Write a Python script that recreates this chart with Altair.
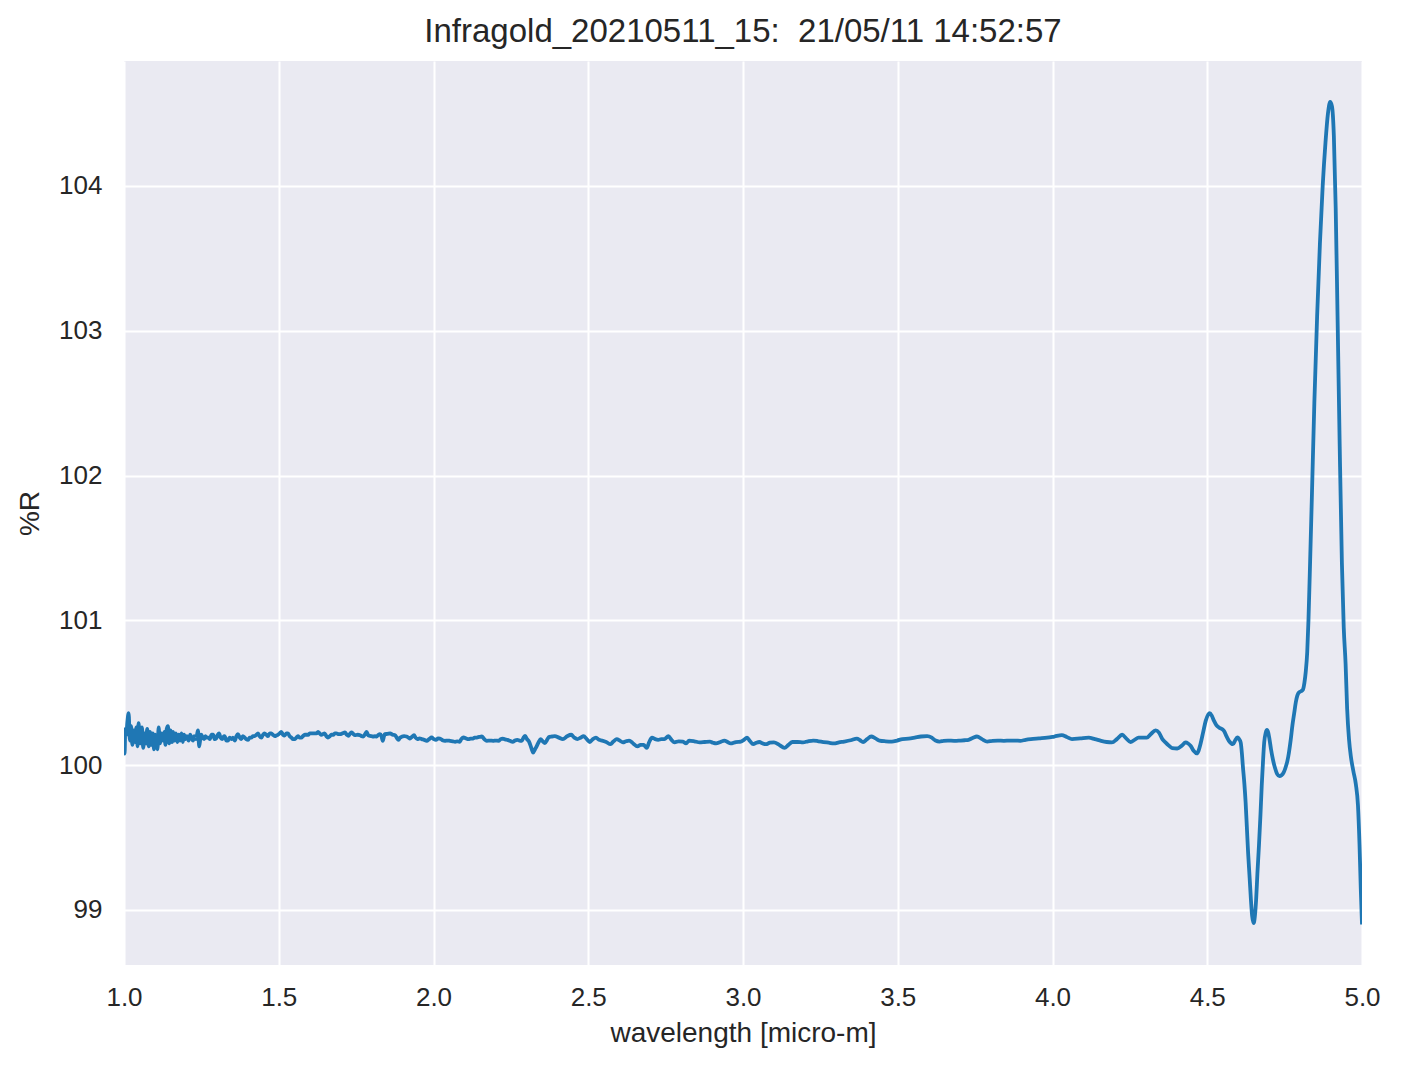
import altair as alt
import pandas as pd

# --- data ---
# segment 1: noisy start, 1.0 - 1.69 micro-m
wl_a = [1.000, 1.002, 1.004, 1.0075, 1.011, 1.015, 1.019, 1.023, 1.027, 1.032, 1.036, 1.040, 1.044, 1.047,
        1.051, 1.054, 1.058, 1.062, 1.067, 1.071, 1.075, 1.080, 1.084, 1.088, 1.093, 1.097, 1.101, 1.105,
        1.108, 1.112, 1.116, 1.120, 1.126, 1.130, 1.134, 1.138, 1.142, 1.146, 1.150, 1.155, 1.159, 1.163,
        1.168, 1.172, 1.177, 1.181, 1.186, 1.190, 1.194, 1.199, 1.203, 1.209, 1.214, 1.218, 1.223, 1.227,
        1.232, 1.236, 1.239, 1.243, 1.247, 1.250, 1.254, 1.259, 1.263, 1.268, 1.273, 1.277, 1.283, 1.288,
        1.293, 1.298, 1.303, 1.307, 1.312, 1.317, 1.321, 1.325, 1.331, 1.336, 1.341, 1.347, 1.352, 1.358,
        1.363, 1.368, 1.374, 1.379, 1.384, 1.390, 1.395, 1.401, 1.406, 1.411, 1.417, 1.422, 1.428, 1.433,
        1.438, 1.444, 1.449, 1.454, 1.460, 1.465, 1.471, 1.476, 1.481, 1.487, 1.492, 1.497, 1.503, 1.508,
        1.514, 1.519, 1.525, 1.530, 1.535, 1.541, 1.546, 1.551, 1.557, 1.562, 1.568, 1.573, 1.578, 1.584,
        1.589, 1.595, 1.600, 1.605, 1.611, 1.616, 1.622, 1.627, 1.632, 1.638, 1.643, 1.648, 1.654, 1.659,
        1.665, 1.670, 1.676, 1.681, 1.686]
r_a = [100.26, 100.08, 100.23, 100.21, 100.30, 100.36, 100.17, 100.27, 100.14, 100.24, 100.16, 100.26, 100.13, 100.29,
       100.18, 100.15, 100.26, 100.12, 100.22, 100.15, 100.25, 100.13, 100.23, 100.14, 100.22, 100.11, 100.21, 100.16,
       100.11, 100.26, 100.15, 100.22, 100.17, 100.23, 100.14, 100.25, 100.27, 100.15, 100.24, 100.16, 100.23, 100.17,
       100.22, 100.16, 100.21, 100.17, 100.22, 100.16, 100.21, 100.18, 100.20, 100.17, 100.21, 100.19, 100.17, 100.20,
       100.18, 100.21, 100.24, 100.13, 100.19, 100.21, 100.19, 100.18, 100.20, 100.19, 100.19, 100.18, 100.21, 100.21,
       100.18, 100.185, 100.21, 100.22, 100.19, 100.18, 100.195, 100.20, 100.17, 100.17, 100.19, 100.18, 100.19, 100.17,
       100.20, 100.215, 100.19, 100.18, 100.20, 100.19, 100.18, 100.175, 100.19, 100.19, 100.20, 100.20, 100.21, 100.22,
       100.20, 100.19, 100.21, 100.22, 100.21, 100.20, 100.22, 100.22, 100.21, 100.20, 100.205, 100.21, 100.22, 100.23,
       100.21, 100.205, 100.22, 100.22, 100.20, 100.19, 100.18, 100.18, 100.19, 100.20, 100.19, 100.19, 100.20, 100.21,
       100.21, 100.21, 100.22, 100.22, 100.22, 100.22, 100.22, 100.23, 100.22, 100.21, 100.215, 100.22, 100.20, 100.19,
       100.20, 100.21, 100.21, 100.22, 100.22]

# segment 2: 1.69 - 2.40 micro-m
wl_b = [1.692, 1.698, 1.706, 1.714, 1.720, 1.725, 1.731, 1.736, 1.741, 1.746, 1.755, 1.763, 1.768, 1.773,
        1.779, 1.784, 1.788, 1.793, 1.800, 1.806, 1.811, 1.816, 1.822, 1.827, 1.832, 1.836, 1.840, 1.843,
        1.851, 1.860, 1.868, 1.876, 1.881, 1.887, 1.892, 1.897, 1.905, 1.913, 1.919, 1.924, 1.930, 1.937,
        1.942, 1.948, 1.955, 1.962, 1.970, 1.978, 1.986, 1.994, 2.001, 2.008, 2.015, 2.021, 2.029, 2.037,
        2.045, 2.053, 2.062, 2.070, 2.077, 2.084, 2.090, 2.097, 2.105, 2.113, 2.120, 2.127, 2.133, 2.140,
        2.148, 2.156, 2.164, 2.172, 2.182, 2.193, 2.201, 2.210, 2.217, 2.224, 2.231, 2.239, 2.247, 2.256,
        2.263, 2.271, 2.278, 2.285, 2.291, 2.296, 2.302, 2.309, 2.316, 2.322, 2.328, 2.334, 2.340, 2.346,
        2.353, 2.360, 2.367, 2.374, 2.383, 2.392]
r_b = [100.215, 100.214, 100.22, 100.226, 100.21, 100.203, 100.22, 100.226, 100.215, 100.207, 100.21, 100.207, 100.20, 100.198,
       100.215, 100.23, 100.21, 100.203, 100.20, 100.198, 100.20, 100.198, 100.21, 100.214, 100.20, 100.168, 100.20, 100.214,
       100.216, 100.219, 100.21, 100.207, 100.19, 100.175, 100.19, 100.196, 100.20, 100.198, 100.19, 100.184, 100.195, 100.207,
       100.19, 100.18, 100.185, 100.18, 100.175, 100.168, 100.18, 100.191, 100.18, 100.175, 100.185, 100.184, 100.172, 100.168,
       100.17, 100.168, 100.165, 100.161, 100.165, 100.161, 100.18, 100.191, 100.185, 100.18, 100.183, 100.184, 100.19, 100.191,
       100.195, 100.198, 100.18, 100.168, 100.17, 100.168, 100.17, 100.168, 100.18, 100.184, 100.178, 100.175, 100.168, 100.161,
       100.17, 100.175, 100.17, 100.168, 100.19, 100.203, 100.18, 100.161, 100.12, 100.087, 100.11, 100.134, 100.16, 100.18,
       100.165, 100.152, 100.175, 100.196, 100.198, 100.20]

# segment 3: 2.40 - 4.35 micro-m
wl_c = [2.405, 2.418, 2.432, 2.445, 2.455, 2.465, 2.475, 2.485, 2.495, 2.505, 2.515, 2.525, 2.535, 2.545,
        2.558, 2.572, 2.582, 2.592, 2.602, 2.612, 2.622, 2.632, 2.645, 2.659, 2.669, 2.679, 2.689, 2.697,
        2.706, 2.716, 2.726, 2.736, 2.746, 2.759, 2.769, 2.779, 2.792, 2.806, 2.816, 2.826, 2.843, 2.860,
        2.876, 2.893, 2.903, 2.913, 2.927, 2.940, 2.950, 2.960, 2.977, 2.993, 3.003, 3.013, 3.023, 3.033,
        3.043, 3.053, 3.064, 3.074, 3.087, 3.100, 3.117, 3.134, 3.147, 3.160, 3.177, 3.194, 3.210, 3.227,
        3.244, 3.260, 3.277, 3.294, 3.310, 3.327, 3.348, 3.368, 3.378, 3.388, 3.401, 3.414, 3.428, 3.441,
        3.461, 3.481, 3.498, 3.515, 3.535, 3.555, 3.575, 3.595, 3.610, 3.622, 3.635, 3.648, 3.662, 3.682,
        3.702, 3.716, 3.729, 3.742, 3.756, 3.772, 3.789, 3.806, 3.823, 3.843, 3.863, 3.880, 3.896, 3.913,
        3.930, 3.956, 3.983, 4.006, 4.030, 4.046, 4.063, 4.090, 4.117, 4.137, 4.157, 4.175, 4.192, 4.208,
        4.225, 4.238, 4.252, 4.265, 4.278, 4.292, 4.305, 4.318, 4.333, 4.344]
r_c = [100.19, 100.18, 100.20, 100.21, 100.19, 100.18, 100.19, 100.20, 100.18, 100.16, 100.18, 100.19, 100.175, 100.17,
       100.16, 100.145, 100.165, 100.18, 100.17, 100.157, 100.165, 100.17, 100.15, 100.13, 100.14, 100.14, 100.12, 100.16,
       100.19, 100.18, 100.175, 100.18, 100.18, 100.20, 100.175, 100.157, 100.165, 100.163, 100.15, 100.17, 100.165, 100.157,
       100.16, 100.163, 100.155, 100.15, 100.16, 100.17, 100.16, 100.15, 100.16, 100.163, 100.175, 100.19, 100.165, 100.145,
       100.155, 100.16, 100.15, 100.145, 100.155, 100.157, 100.14, 100.12, 100.14, 100.16, 100.16, 100.157, 100.165, 100.17,
       100.165, 100.16, 100.155, 100.15, 100.157, 100.163, 100.172, 100.184, 100.172, 100.16, 100.18, 100.198, 100.185, 100.17,
       100.165, 100.163, 100.17, 100.18, 100.183, 100.19, 100.198, 100.20, 100.19, 100.17, 100.163, 100.168, 100.17, 100.168,
       100.17, 100.172, 100.175, 100.188, 100.198, 100.18, 100.163, 100.168, 100.17, 100.168, 100.17, 100.17, 100.168, 100.175,
       100.18, 100.185, 100.19, 100.198, 100.207, 100.195, 100.18, 100.185, 100.19, 100.18, 100.168, 100.16, 100.157, 100.18,
       100.21, 100.185, 100.16, 100.175, 100.19, 100.19, 100.19, 100.215, 100.24, 100.225]

# segment 4: 4.35 - 5.0 micro-m (oscillations and peak)
wl_d = [4.355, 4.365, 4.376, 4.387, 4.403, 4.418, 4.430, 4.438, 4.446, 4.456, 4.466, 4.472, 4.478, 4.487,
        4.495, 4.508, 4.515, 4.522, 4.530, 4.538, 4.554, 4.562, 4.570, 4.583, 4.590, 4.597, 4.603, 4.608,
        4.612, 4.615, 4.620, 4.624, 4.628, 4.632, 4.637, 4.641, 4.645, 4.650, 4.654, 4.658, 4.662, 4.667,
        4.672, 4.676, 4.680, 4.684, 4.689, 4.693, 4.697, 4.701, 4.706, 4.712, 4.719, 4.726, 4.733, 4.740,
        4.747, 4.753, 4.759, 4.764, 4.770, 4.775, 4.781, 4.786, 4.791, 4.796, 4.803, 4.809, 4.814, 4.818,
        4.823, 4.827, 4.831, 4.838, 4.846, 4.855, 4.864, 4.873, 4.882, 4.890, 4.897, 4.903, 4.909, 4.915,
        4.921, 4.928, 4.935, 4.941, 4.947, 4.952, 4.958, 4.964, 4.972, 4.980, 4.987, 4.992, 4.996, 5.000]
r_d = [100.18, 100.157, 100.135, 100.118, 100.115, 100.135, 100.157, 100.15, 100.134, 100.10, 100.081, 100.10, 100.145, 100.23,
       100.306, 100.36, 100.34, 100.306, 100.275, 100.26, 100.237, 100.20, 100.168, 100.145, 100.17, 100.191, 100.18, 100.157,
       100.08, 99.995, 99.87, 99.742, 99.57, 99.396, 99.22, 99.074, 98.96, 98.91, 98.96, 99.074, 99.25, 99.442,
       99.66, 99.857, 100.02, 100.157, 100.225, 100.244, 100.225, 100.18, 100.11, 100.041, 99.98, 99.938, 99.925, 99.931,
       99.95, 99.984, 100.03, 100.088, 100.18, 100.272, 100.36, 100.433, 100.48, 100.502, 100.51, 100.521, 100.57, 100.64,
       100.78, 101.0, 101.3, 101.85, 102.5, 103.1, 103.6, 104.0, 104.3, 104.5, 104.58, 104.55, 104.35, 103.85,
       103.1, 102.2, 101.4, 100.95, 100.7, 100.39, 100.18, 100.06, 99.96, 99.87, 99.72, 99.45, 99.15, 98.9]

x_ticks = [1.0, 1.5, 2.0, 2.5, 3.0, 3.5, 4.0, 4.5, 5.0]
y_ticks = [99, 100, 101, 102, 103, 104]

title_text = "Infragold_20210511_15:\u00a0 21/05/11 14:52:57"

df = pd.DataFrame({
    "wl": wl_a + wl_b + wl_c + wl_d,
    "r": r_a + r_b + r_c + r_d,
})

FONT = "Liberation Sans"
TXT = "#262626"

chart = alt.Chart(df).mark_line(
    color="#1f77b4", strokeWidth=3.8, clip=True, interpolate="monotone"
).encode(
    x=alt.X("wl:Q",
            scale=alt.Scale(domain=[1.0, 5.0], nice=False, zero=False),
            axis=alt.Axis(values=x_ticks, format=".1f", title="wavelength [micro-m]",
                          labelPadding=19, labelFlush=False, titleX=619, titleY=76,
                          titleBaseline="alphabetic", titleAlign="center")),
    y=alt.Y("r:Q",
            scale=alt.Scale(domain=[98.62, 104.863], nice=False, zero=False),
            axis=alt.Axis(values=y_ticks, format="d", title="%R",
                          labelPadding=22, labelFlush=False, titleX=-94, titleY=452, titleAngle=270,
                          titleBaseline="middle", titleAlign="center")),
).properties(
    width=1238,
    height=904,
    autosize=alt.AutoSizeParams(type="none"),
    padding={"left": 116, "top": 53, "right": 32, "bottom": 96},
    background="white",
    title=alt.Title(title_text, font=FONT, fontSize=33, fontWeight="normal", color=TXT,
                    anchor="middle", baseline="alphabetic", offset=-14, frame="group"),
).configure_view(
    fill="#EAEAF2", strokeWidth=0
).configure_axis(
    grid=True, gridColor="white", gridWidth=2, gridOpacity=1,
    domain=False, ticks=False,
    labelFont=FONT, labelFontSize=26, labelColor=TXT,
    titleFont=FONT, titleFontSize=28, titleColor=TXT, titleFontWeight="normal",
)

chart.save("out.html", embed_options={"renderer": "svg", "actions": False})
